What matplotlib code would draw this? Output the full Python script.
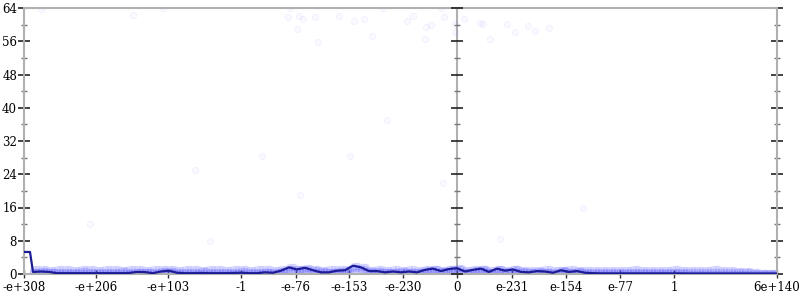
import numpy as np
import matplotlib.pyplot as plt
from matplotlib.ticker import MultipleLocator

plt.rcParams['font.family'] = 'serif'
plt.rcParams['font.serif'] = ['DejaVu Serif', 'Liberation Serif']

# x axis labels and where they sit on the index scale
tick_pos = [0, 72, 144, 217, 272, 325, 379, 433, 488, 542, 596, 650, 753]
tick_lab = ["-e+308", "-e+206", "-e+103", "-1", "-e-76", "-e-153", "-e-230",
            "0", "e-231", "e-154", "e-77", "1", "6e+140"]
y_ticks = [0, 8, 16, 24, 32, 40, 48, 56, 64]

# mean line (index scale)
line_x = [0, 6] + list(range(9, 754, 8))
line_y = [5.3, 5.3,
          0.5, 0.6, 0.5, 0.2, 0.2, 0.2, 0.2, 0.2, 0.2, 0.2,
          0.2, 0.2, 0.25, 0.5, 0.45, 0.2, 0.6, 0.8, 0.3, 0.2,
          0.2, 0.25, 0.2, 0.2, 0.2, 0.25, 0.3, 0.2, 0.2, 0.4,
          0.3, 0.8, 1.6, 1.1, 1.5, 0.9, 0.4, 0.4, 0.8, 0.9,
          2.0, 1.6, 0.7, 0.7, 0.4, 0.6, 0.4, 0.6, 0.4, 1.0,
          1.3, 0.7, 1.2, 1.4, 0.6, 1.0, 1.3, 0.5, 1.3, 0.8,
          1.1, 0.5, 0.4, 0.7, 0.6, 0.3, 0.9, 0.5, 0.7, 0.3,
          0.2, 0.15,
          0.15, 0.15, 0.15, 0.15, 0.15, 0.15, 0.15, 0.15, 0.15, 0.15,
          0.12, 0.12, 0.12, 0.12, 0.12, 0.12, 0.12, 0.12, 0.12, 0.12, 0.12, 0.12]

# sample cloud around the line (same x as line_x[2:])
band_top = [1.1, 1.2, 1.0, 1.1, 1.2, 1.0, 1.1, 1.2, 1.0, 1.1,
            1.2, 1.0, 1.1, 1.2, 1.0, 1.1, 1.2, 1.3, 1.0, 1.1,
            1.2, 1.0, 1.1, 1.2, 1.0, 1.1, 1.2, 1.0, 1.1, 1.2,
            1.0, 1.1, 1.3, 1.2, 1.3, 1.1, 1.0, 1.1, 1.2, 1.1,
            1.4, 1.3, 1.0, 1.1, 1.0, 1.1, 1.0, 1.1, 1.0, 1.2,
            1.2, 1.0, 1.1, 1.2, 1.0, 1.1, 1.2, 1.0, 1.1, 1.0,
            1.1, 1.0, 0.9, 1.0, 1.1, 0.9, 1.0, 1.1, 1.0, 0.9,
            1.0, 0.9,
            1.0, 0.9, 1.0, 1.1, 0.9, 1.0, 0.9, 1.0, 1.1, 0.9,
            1.0, 0.9, 1.0, 1.1, 0.9, 1.0, 0.8, 0.7, 0.5, 0.3, 0.2, 0.15]
band_mid = [0.6, 0.7, 0.5, 0.6, 0.5, 0.6, 0.7, 0.5, 0.6, 0.5,
            0.6, 0.7, 0.5, 0.6, 0.5, 0.6, 0.7, 0.5, 0.6, 0.5,
            0.6, 0.7, 0.5, 0.6, 0.5, 0.6, 0.7, 0.5, 0.6, 0.5,
            0.6, 0.7, 0.5, 0.6, 0.5, 0.6, 0.7, 0.5, 0.6, 0.5,
            0.6, 0.7, 0.5, 0.6, 0.5, 0.6, 0.7, 0.5, 0.6, 0.5,
            0.6, 0.7, 0.5, 0.6, 0.5, 0.6, 0.7, 0.5, 0.6, 0.5,
            0.6, 0.7, 0.5, 0.6, 0.5, 0.6, 0.7, 0.5, 0.6, 0.5,
            0.6, 0.5,
            0.6, 0.5, 0.6, 0.5, 0.6, 0.5, 0.6, 0.5, 0.6, 0.5,
            0.6, 0.5, 0.6, 0.5, 0.6, 0.5, 0.4, 0.4, 0.3, 0.2, 0.15, 0.12]

# stray samples
out_x = [17, 109, 139, 266, 264, 275, 279, 273, 291, 315, 330, 340, 348, 294,
         359, 389, 383, 401, 402, 407, 417, 420, 431, 431, 440, 456, 459, 466,
         483, 491, 504, 511, 525,
         66, 186, 171, 238, 276, 326, 363, 419, 476, 559]
out_y = [63.8, 62.2, 63.9, 63.9, 61.8, 62.1, 61.4, 58.9, 61.8, 62.1, 60.9, 61.4,
         57.3, 55.8, 63.9, 62.1, 60.9, 56.5, 59.4, 59.9, 63.9, 61.8, 60.2, 58.2,
         61.4, 60.4, 60.2, 56.5, 60.2, 58.2, 59.7, 58.4, 59.2,
         12.0, 8.0, 25.0, 28.5, 19.0, 28.5, 37.0, 22.0, 8.5, 16.0]

fig = plt.figure(figsize=(8, 3), dpi=100)
ax = fig.add_axes([24 / 800, 26 / 300, 753 / 800, 266 / 300])

grey = '#b0b0b0'
cloud_fc = (0.3, 0.3, 1.0, 0.09)
cloud_ec = (0.3, 0.3, 1.0, 0.13)

bx = np.array(line_x[2:])
for dx in (0, 2.7, 5.3):
    ax.scatter(bx + dx, band_top, s=22, fc=cloud_fc, ec=cloud_ec, lw=0.6, zorder=2)
    ax.scatter(bx + dx, band_mid, s=22, fc=cloud_fc, ec=cloud_ec, lw=0.6, zorder=2)
    ax.scatter(bx + dx, line_y[2:], s=22, fc=cloud_fc, ec=cloud_ec, lw=0.6, zorder=2)
ax.scatter(out_x, out_y, s=20, fc=(0.3, 0.3, 1.0, 0.03), ec=(0.3, 0.3, 1.0, 0.07),
           lw=0.6, zorder=2)

ax.plot(line_x, line_y, color='#1c1c96', lw=1.6, zorder=4)

# middle axis at zero
ax.axvline(433, color=grey, lw=1.5, zorder=1)
ax.plot([433] * 9, y_ticks, ls='none', marker='_', ms=8, mew=1.2,
        color='#222222', clip_on=False, zorder=5)
ax.plot([433] * 8, np.array(y_ticks[:-1]) + 4, ls='none', marker='_', ms=4, mew=1,
        color='#777777', clip_on=False, zorder=5)

ax.set_xlim(0, 753)
ax.set_ylim(0, 64)
ax.set_xticks(tick_pos)
ax.set_xticklabels(tick_lab, family='DejaVu Serif', fontsize=8.5)
ax.set_yticks(y_ticks)
ax.set_yticklabels([str(v) for v in y_ticks], family='DejaVu Serif', fontsize=8.5)
ax.yaxis.set_minor_locator(MultipleLocator(4))

for s in ax.spines.values():
    s.set_color(grey)
    s.set_linewidth(1.5)

ax.tick_params(axis='y', which='major', direction='inout', length=8, width=1.2,
               color='#222222', left=True, right=True, labelright=False, pad=1)
ax.tick_params(axis='y', which='minor', direction='inout', length=4, width=1,
               color='#777777', left=True, right=True)
ax.tick_params(axis='x', which='major', direction='inout', length=6, width=1,
               color='#333333', pad=2)

fig.savefig('out.png', dpi=100)
